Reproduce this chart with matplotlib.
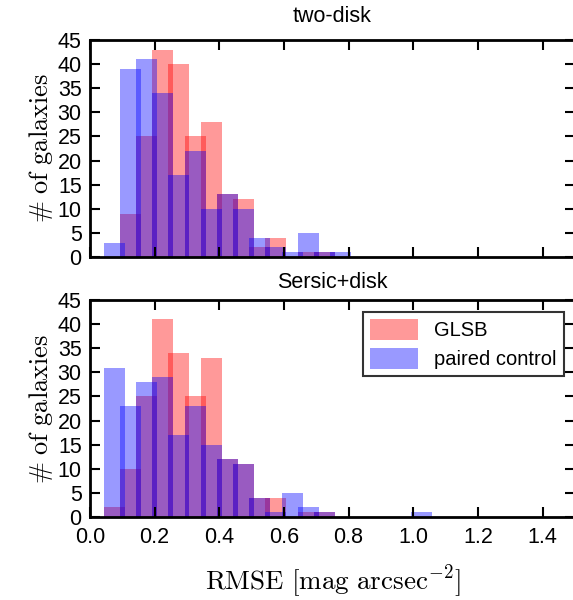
import numpy as np
import matplotlib
matplotlib.use("Agg")
import matplotlib.pyplot as plt

plt.rcParams["font.family"] = ["Liberation Sans", "DejaVu Sans"]
plt.rcParams["mathtext.fontset"] = "cm"

# histogram bins (width 0.05 from 0 to 1.5)
bin_width = 0.05
bin_left = np.arange(0, 1.5, bin_width)

# two-disk fits
glsb_two = [0, 0, 9, 25, 43, 40, 25, 28, 13, 12, 2, 4, 0, 1, 1, 0,
            0, 0, 0, 0, 0, 0, 0, 0, 0, 0, 0, 0, 0, 0]
ctrl_two = [0, 3, 39, 41, 34, 17, 22, 10, 13, 10, 4, 2, 1, 5, 1, 1,
            0, 0, 0, 0, 0, 0, 0, 0, 0, 0, 0, 0, 0, 0]

# Sersic+disk fits
glsb_sd = [0, 2, 10, 25, 41, 34, 25, 33, 12, 11, 4, 4, 0, 1, 1, 0,
           0, 0, 0, 0, 0, 0, 0, 0, 0, 0, 0, 0, 0, 0]
ctrl_sd = [0, 31, 23, 28, 29, 17, 23, 15, 12, 11, 4, 1, 5, 2, 1, 0,
           0, 0, 0, 0, 1, 0, 0, 0, 0, 0, 0, 0, 0, 0]

panels = [("two-disk", glsb_two, ctrl_two, 12.7),
          ("Sersic+disk", glsb_sd, ctrl_sd, 9)]

# bars are a bit wider than the bin, so neighbours overlap slightly
overlap = 0.015

fig = plt.figure(figsize=(5.73, 6.0), dpi=100)
ax_top = fig.add_axes([0.157, 0.5717, 0.8464, 0.3617])
ax_bot = fig.add_axes([0.157, 0.1383, 0.8464, 0.3617], sharex=ax_top)

for ax, (title, glsb, ctrl, pad) in zip([ax_top, ax_bot], panels):
    centers = bin_left + bin_width / 2
    ax.bar(centers, glsb, width=bin_width + overlap, color="r",
           lw=0, alpha=0.4, label="GLSB")
    ax.bar(centers, ctrl, width=bin_width + overlap, color="b",
           lw=0, alpha=0.4, label="paired control")
    ax.set_xlim(0, 1.5)
    ax.set_ylim(0, 45)
    ax.set_yticks(np.arange(0, 46, 5))
    ax.set_title(title, fontsize=15.5, pad=pad)
    ax.set_ylabel(r"$\#\ \mathrm{of\ galaxies}$", fontsize=19, labelpad=2)
    ax.tick_params(direction="in", length=7, width=1.5, top=True,
                   right=True, labelsize=15.5, pad=6)
    ax.tick_params(axis="x", pad=7)
    for s in ax.spines.values():
        s.set_linewidth(2)

plt.setp(ax_top.get_xticklabels(), visible=False)
ax_bot.set_xticks(np.arange(0, 1.41, 0.2))
ax_bot.set_xlabel(r"$\mathrm{RMSE\ [mag\ arcsec^{-2}]}$", fontsize=19.5,
                  labelpad=11)

leg = ax_bot.legend(loc="upper right", bbox_to_anchor=(0.977, 0.945),
                    borderaxespad=0, fontsize=14.5, fancybox=False,
                    handlelength=2.4, handleheight=1.2, borderpad=0.35,
                    labelspacing=0.4)
leg.get_frame().set_edgecolor("k")
leg.get_frame().set_linewidth(1.5)

plt.savefig("out.png", dpi=100)
